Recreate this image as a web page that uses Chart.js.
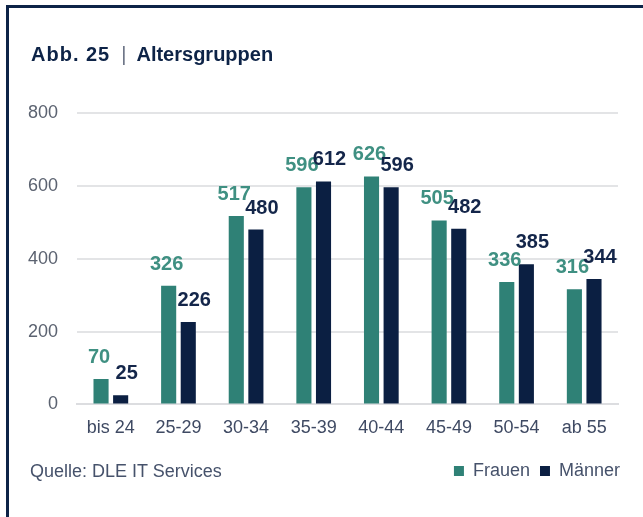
<!DOCTYPE html>
<html>
<head>
<meta charset="utf-8">
<script src="https://cdn.jsdelivr.net/npm/chart.js@4"></script>
<style>
  html, body { margin: 0; padding: 0; width: 643px; height: 517px; overflow: hidden; background: #fff; }
  #frame { position: absolute; left: 6px; top: 5px; width: 700px; height: 600px; border: 3px solid #0d2347; box-sizing: border-box; }
  #title { position: absolute; left: 31px; top: 44px; font: bold 20px "Liberation Sans", Arial, sans-serif; line-height: 20px; color: #0d2347; white-space: nowrap; }
  #title .abb { letter-spacing: 1px; }
  #title .sep { font-weight: normal; color: #6b7385; margin: 0 10px 0 11px; }
  #source { position: absolute; left: 30px; top: 462px; font: 18px "Liberation Sans", Arial, sans-serif; line-height: 18px; color: #46526b; white-space: nowrap; }
  #chart { position: absolute; left: 0; top: 0; }
</style>
</head>
<body>
<div id="frame"></div>
<canvas id="chart" width="643" height="517"></canvas>
<div id="title"><span class="abb">Abb. 25</span><span class="sep">|</span>Altersgruppen</div>
<div id="source">Quelle: DLE IT Services</div>
<script>
const categories = ["bis 24", "25-29", "30-34", "35-39", "40-44", "45-49", "50-54", "ab 55"];
const frauen = [70, 326, 517, 596, 626, 505, 336, 316];
const maenner = [25, 226, 480, 612, 596, 482, 385, 344];
const yTicks = [0, 200, 400, 600, 800];

const FONT = "'Liberation Sans', Arial, sans-serif";

// Werte über den Balken
const valueLabels = {
  id: "valueLabels",
  afterDatasetsDraw(chart) {
    const ctx = chart.ctx;
    ctx.save();
    ctx.font = "bold 20px " + FONT;
    ctx.textAlign = "center";
    ctx.textBaseline = "alphabetic";
    chart.data.datasets.forEach((ds, i) => {
      const meta = chart.getDatasetMeta(i);
      meta.data.forEach((bar, j) => {
        ctx.fillStyle = ds.labelColor;
        ctx.fillText(ds.data[j], bar.x + ds.labelShift, bar.y - 16);
      });
    });
    ctx.restore();
  }
};

// Legende etwas nach rechts (ohne Abstand am Ende)
const legendShift = {
  id: "legendShift",
  afterLayout(chart) {
    chart.legend.left += 12;
    chart.legend.right += 12;
  }
};

new Chart(document.getElementById("chart"), {
  type: "bar",
  data: {
    labels: categories,
    datasets: [
      { label: "Frauen", data: frauen, backgroundColor: "#2f8176", labelColor: "#3f9082", labelShift: -2 },
      { label: "Männer", data: maenner, backgroundColor: "#0b1f42", labelColor: "#14264a", labelShift: 6 }
    ]
  },
  options: {
    responsive: false,
    animation: false,
    devicePixelRatio: 1,
    layout: { padding: { left: 9, right: 25, top: 113, bottom: 27 } },
    datasets: { bar: { categoryPercentage: 0.58, barPercentage: 0.77 } },
    scales: {
      x: {
        grid: { display: false, drawTicks: false },
        border: { color: "#dcdde0", width: 2 },
        ticks: { color: "#3f4a63", font: { family: FONT, size: 18 }, padding: 13 }
      },
      y: {
        min: 0,
        max: 800,
        afterBuildTicks: s => { s.ticks = yTicks.map(v => ({ value: v })); },
        grid: { color: "#e3e4e6", lineWidth: 2, drawTicks: false },
        border: { display: false },
        ticks: { color: "#5b6270", font: { family: FONT, size: 18 }, padding: 19 }
      }
    },
    plugins: {
      legend: {
        position: "bottom",
        align: "end",
        labels: {
          color: "#46526b",
          font: { family: FONT, size: 18 },
          boxWidth: 10,
          boxHeight: 10,
          padding: 10
        }
      },
      tooltip: { enabled: false }
    }
  },
  plugins: [valueLabels, legendShift]
});
</script>
</body>
</html>
